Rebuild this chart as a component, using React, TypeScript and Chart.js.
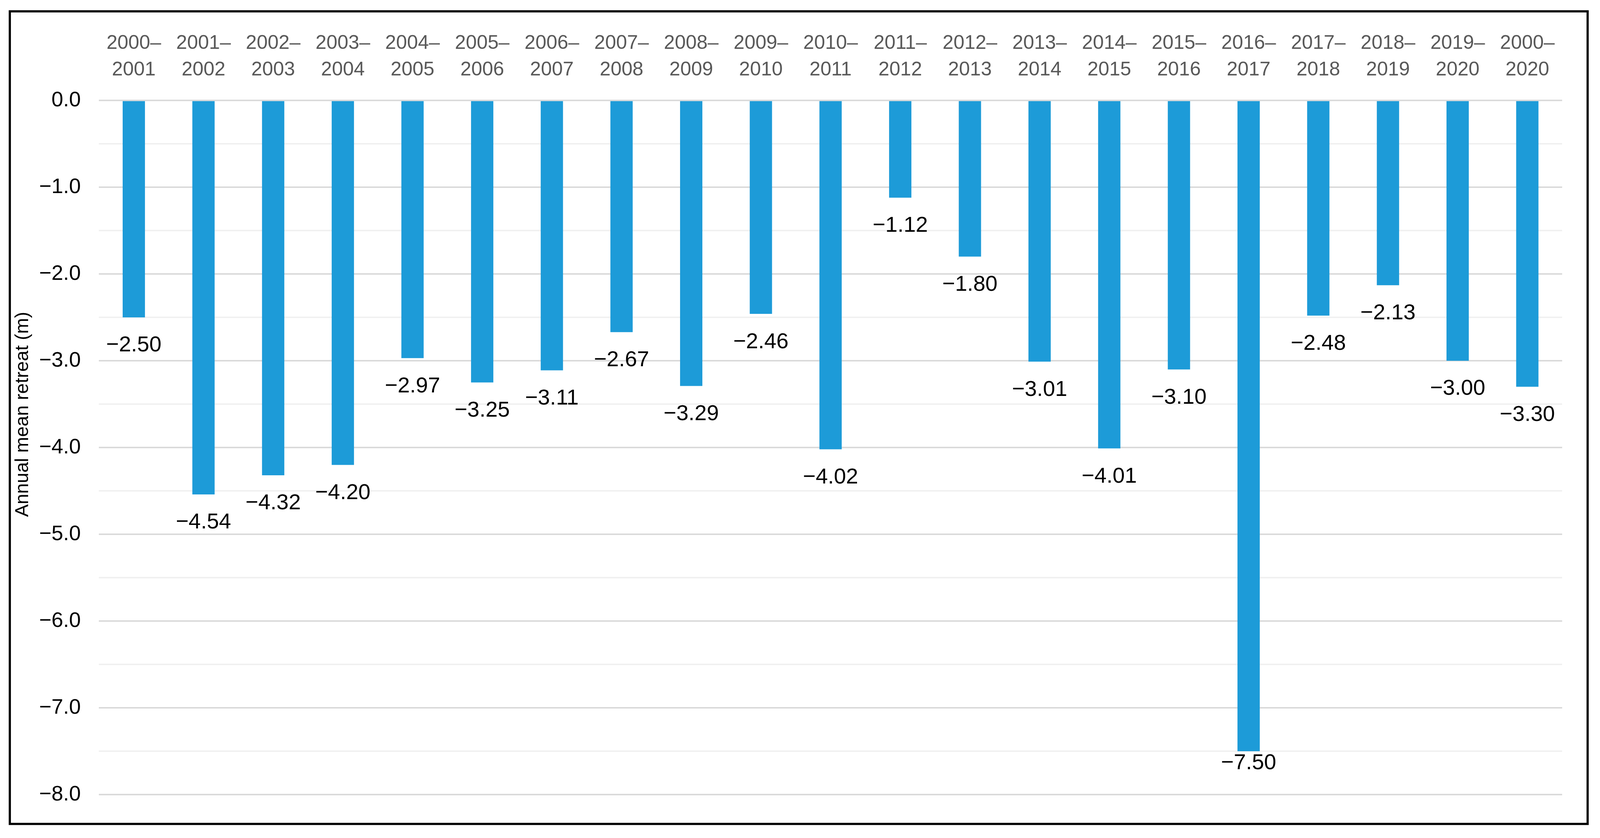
import React, { useEffect, useRef, useState } from 'react';
import { Chart, registerables } from 'chart.js';

Chart.register(...registerables);

// ---- data ----
const categories: string[] = [
  '2000–2001', '2001–2002', '2002–2003', '2003–2004', '2004–2005', '2005–2006', '2006–2007',
  '2007–2008', '2008–2009', '2009–2010', '2010–2011', '2011–2012', '2012–2013', '2013–2014',
  '2014–2015', '2015–2016', '2016–2017', '2017–2018', '2018–2019', '2019–2020', '2000–2020',
];
const retreat: number[] = [
  -2.50, -4.54, -4.32, -4.20, -2.97, -3.25, -3.11,
  -2.67, -3.29, -2.46, -4.02, -1.12, -1.80, -3.01,
  -4.01, -3.10, -7.50, -2.48, -2.13, -3.00, -3.30,
];
const yMin = -8;
const yMax = 0;
const yTitle = 'Annual mean retreat (m)';

// ---- style (reference pixel space 4397 x 2144) ----
const REF_W = 4397;
const REF_H = 2144;
const FONT = '"Liberation Sans", Arial, Helvetica, sans-serif';
const BAR = '#1d9bd8';

const fmtTick = (v: number) => (v === 0 ? '0.0' : (v < 0 ? '\u2212' : '') + Math.abs(v).toFixed(1));
const fmtVal = (v: number) => (v < 0 ? '\u2212' : '') + Math.abs(v).toFixed(2);
const isMajor = (v: number) => Math.abs(v - Math.round(v)) < 1e-6;

export default function App() {
  const ref = useRef<HTMLCanvasElement | null>(null);
  const [size] = useState(() => ({
    w: window.innerWidth || REF_W,
    h: window.innerHeight || REF_H,
  }));

  useEffect(() => {
    document.body.style.margin = '0';
    document.body.style.overflow = 'hidden';
    const canvas = ref.current;
    if (!canvas) return;
    const { w, h } = size;
    const sx = w / REF_W;
    const sy = h / REF_H;
    const s = Math.min(sx, sy);

    const framePlugin = {
      id: 'frame',
      afterDraw(chart: any) {
        const ctx = chart.ctx;
        ctx.save();
        ctx.strokeStyle = '#000';
        ctx.lineWidth = 6 * s;
        ctx.strokeRect(27 * sx, 29 * sy, 4336 * sx, 2079 * sy);
        ctx.restore();
      },
    };

    const titlePlugin = {
      id: 'ytitle',
      afterDraw(chart: any) {
        const ctx = chart.ctx;
        ctx.save();
        ctx.translate(63 * sx, 1060 * sy);
        ctx.rotate(-Math.PI / 2);
        ctx.font = `${52 * s}px ${FONT}`;
        ctx.fillStyle = '#000';
        ctx.textAlign = 'center';
        ctx.textBaseline = 'middle';
        ctx.fillText(yTitle, 0, 0);
        ctx.restore();
      },
    };

    const valueLabelPlugin = {
      id: 'valueLabels',
      afterDatasetsDraw(chart: any) {
        const ctx = chart.ctx;
        const meta = chart.getDatasetMeta(0);
        const area = chart.chartArea;
        ctx.save();
        ctx.font = `${60 * s}px ${FONT}`;
        ctx.fillStyle = '#000';
        ctx.textAlign = 'center';
        ctx.textBaseline = 'middle';
        meta.data.forEach((bar: any, i: number) => {
          const v = chart.data.datasets[0].data[i] as number;
          const y = Math.min(bar.y + 72 * sy, area.bottom - 80 * sy);
          ctx.fillText(fmtVal(v), bar.x, y);
        });
        ctx.restore();
      },
    };

    const chart = new Chart(canvas, {
      type: 'bar',
      data: {
        labels: categories.map((c) => {
          const [a, b] = c.split('–');
          return [a + '–', b];
        }),
        datasets: [
          {
            data: retreat,
            backgroundColor: BAR,
            borderWidth: 0,
            barPercentage: 0.32,
            categoryPercentage: 1,
          },
        ],
      },
      options: {
        animation: false,
        responsive: false,
        maintainAspectRatio: false,
        layout: { padding: { left: 0, top: 0, right: w - 4293 * sx, bottom: h - 2033 * sy } },
        plugins: {
          legend: { display: false },
          tooltip: { enabled: false },
        },
        scales: {
          x: {
            position: 'top',
            grid: { display: false, drawTicks: false },
            border: { display: false },
            ticks: {
              color: '#595959',
              font: { family: FONT, size: 54 * s, lineHeight: 73 / 54 },
              padding: 44 * sy,
              maxRotation: 0,
              minRotation: 0,
              autoSkip: false,
            },
            afterFit(scale: any) {
              scale.height = 257 * sy;
            },
          },
          y: {
            min: yMin,
            max: yMax,
            border: { display: false },
            grid: {
              drawTicks: false,
              color: (c: any) => (isMajor(c.tick.value) ? '#d9d9d9' : '#f0f0f0'),
              lineWidth: 4 * s,
            },
            ticks: {
              stepSize: 0.5,
              autoSkip: false,
              color: '#000',
              padding: 50 * sx,
              font: { family: FONT, size: 58 * s },
              callback: (v: any) => (isMajor(Number(v)) ? fmtTick(Number(v)) : ''),
            },
            afterFit(scale: any) {
              scale.width = 272 * sx;
            },
          },
        },
      },
      plugins: [valueLabelPlugin, titlePlugin, framePlugin],
    } as any);
    return () => chart.destroy();
  }, [size]);

  return (
    <div style={{ width: size.w, height: size.h, background: '#fff', overflow: 'hidden' }}>
      <canvas ref={ref} style={{ display: 'block', width: size.w, height: size.h }} width={size.w} height={size.h} />
    </div>
  );
}
